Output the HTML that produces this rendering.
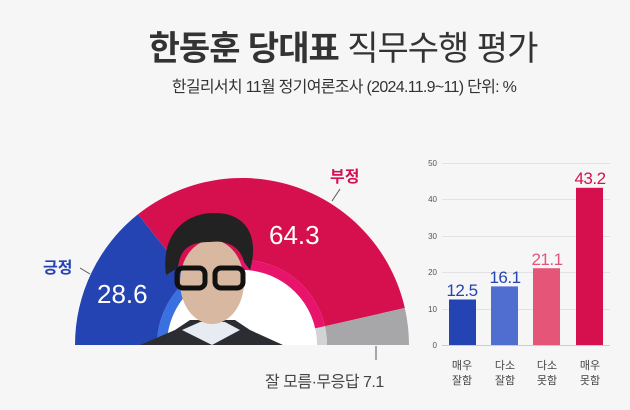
<!DOCTYPE html>
<html><head><meta charset="utf-8"><style>
body{margin:0;width:630px;height:405px;background:#f6f6f7;overflow:hidden;font-family:"Liberation Sans","Noto Sans CJK KR",sans-serif}
</style></head><body>
<svg width="630" height="405" viewBox="0 0 630 405" xmlns="http://www.w3.org/2000/svg" font-family="Liberation Sans, Noto Sans CJK KR, sans-serif">
<text x="343" y="60" text-anchor="middle" font-size="34" fill="#333" font-weight="bold" letter-spacing="-1">한동훈 당대표 <tspan font-weight="normal">직무수행 평가</tspan></text>
<text x="344" y="92" text-anchor="middle" font-size="16" fill="#333" letter-spacing="-0.7">한길리서치 11월 정기여론조사 (2024.11.9~11) 단위: %</text>
<path d="M75,345 A167,167 0 0 1 138,214.3 L189.1,278.5 A85,85 0 0 0 157,345Z" fill="#2444b4"/>
<path d="M138,214.3 A167,167 0 0 1 404.8,308 L324.9,326.2 A85,85 0 0 0 189.1,278.5Z" fill="#d6104f"/>
<path d="M404.8,308 A167,167 0 0 1 409,345 L327,345 A85,85 0 0 0 324.9,326.2Z" fill="#a7a7aa"/>
<path d="M157,345 A85,85 0 0 1 189.1,278.5 L195.3,286.3 A75,75 0 0 0 167,345Z" fill="#3a70e0"/>
<path d="M189.1,278.5 A85,85 0 0 1 324.9,326.2 L315.1,328.4 A75,75 0 0 0 195.3,286.3Z" fill="#e8146c"/>
<path d="M324.9,326.2 A85,85 0 0 1 327,345 L317,345 A75,75 0 0 0 315.1,328.4Z" fill="#d3d3d6"/>
<path d="M167,345 A75,75 0 0 1 317,345Z" fill="#fff"/>
<path d="M140,345 L175,330 L190,320 L235,320 L250,330 L283,345Z" fill="#2b2d33"/>
<path d="M182,330 L200,322 L225,322 L240,330 L212,345Z" fill="#e6ecf2"/>
<ellipse cx="212" cy="282" rx="32" ry="42" fill="#d9b8a2"/>
<path d="M166,275 C160,230 190,212 215,213 C245,213 260,235 250,270 L244,262 C240,245 225,240 210,242 C195,242 180,245 178,268Z" fill="#222"/>
<rect x="177" y="268" width="28" height="20" rx="6" fill="none" stroke="#111" stroke-width="5"/>
<rect x="215" y="268" width="28" height="20" rx="6" fill="none" stroke="#111" stroke-width="5"/>
<text x="97" y="303" font-size="26" fill="#fff">28.6</text>
<text x="269" y="244" font-size="26" fill="#fff">64.3</text>
<text x="43" y="273" font-size="16" fill="#2444b4" font-weight="bold">긍정</text>
<line x1="80" y1="268" x2="90" y2="274" stroke="#555" stroke-width="1"/>
<text x="330" y="182" font-size="16" fill="#d6104f" font-weight="bold">부정</text>
<line x1="340" y1="189" x2="332" y2="201" stroke="#555" stroke-width="1"/>
<line x1="376" y1="346" x2="376" y2="360" stroke="#555" stroke-width="1"/>
<text x="265" y="387" font-size="16" fill="#444" letter-spacing="-0.5">잘 모름·무응답 7.1</text>
<g stroke="#e2e2e4" stroke-width="1">
<line x1="442" y1="163.5" x2="610" y2="163.5"/><line x1="442" y1="199.5" x2="610" y2="199.5"/>
<line x1="442" y1="236.5" x2="610" y2="236.5"/><line x1="442" y1="272.5" x2="610" y2="272.5"/>
<line x1="442" y1="309.5" x2="610" y2="309.5"/><line x1="442" y1="345.5" x2="610" y2="345.5" stroke="#ccc"/>
</g>
<g font-size="8" fill="#555" text-anchor="end">
<text x="437" y="166">50</text><text x="437" y="202">40</text><text x="437" y="239">30</text>
<text x="437" y="275">20</text><text x="437" y="312">10</text><text x="437" y="348">0</text>
</g>
<rect x="449" y="299.5" width="27" height="45.5" fill="#2444b4"/>
<rect x="491" y="286.4" width="27" height="58.6" fill="#4f6ed0"/>
<rect x="533" y="268.2" width="27" height="76.8" fill="#e45578"/>
<rect x="576" y="187.8" width="27" height="157.2" fill="#d6104f"/>
<g font-size="17" text-anchor="middle" letter-spacing="-0.5">
<text x="462" y="296" fill="#2444b4">12.5</text>
<text x="505" y="283" fill="#2444b4">16.1</text>
<text x="547" y="265" fill="#e45578">21.1</text>
<text x="590" y="184" fill="#d6104f">43.2</text>
</g>
<g font-size="11" fill="#444" text-anchor="middle">
<text x="462" y="369">매우</text><text x="462" y="384">잘함</text>
<text x="505" y="369">다소</text><text x="505" y="384">잘함</text>
<text x="547" y="369">다소</text><text x="547" y="384">못함</text>
<text x="590" y="369">매우</text><text x="590" y="384">못함</text>
</g>
</svg>
</body></html>
